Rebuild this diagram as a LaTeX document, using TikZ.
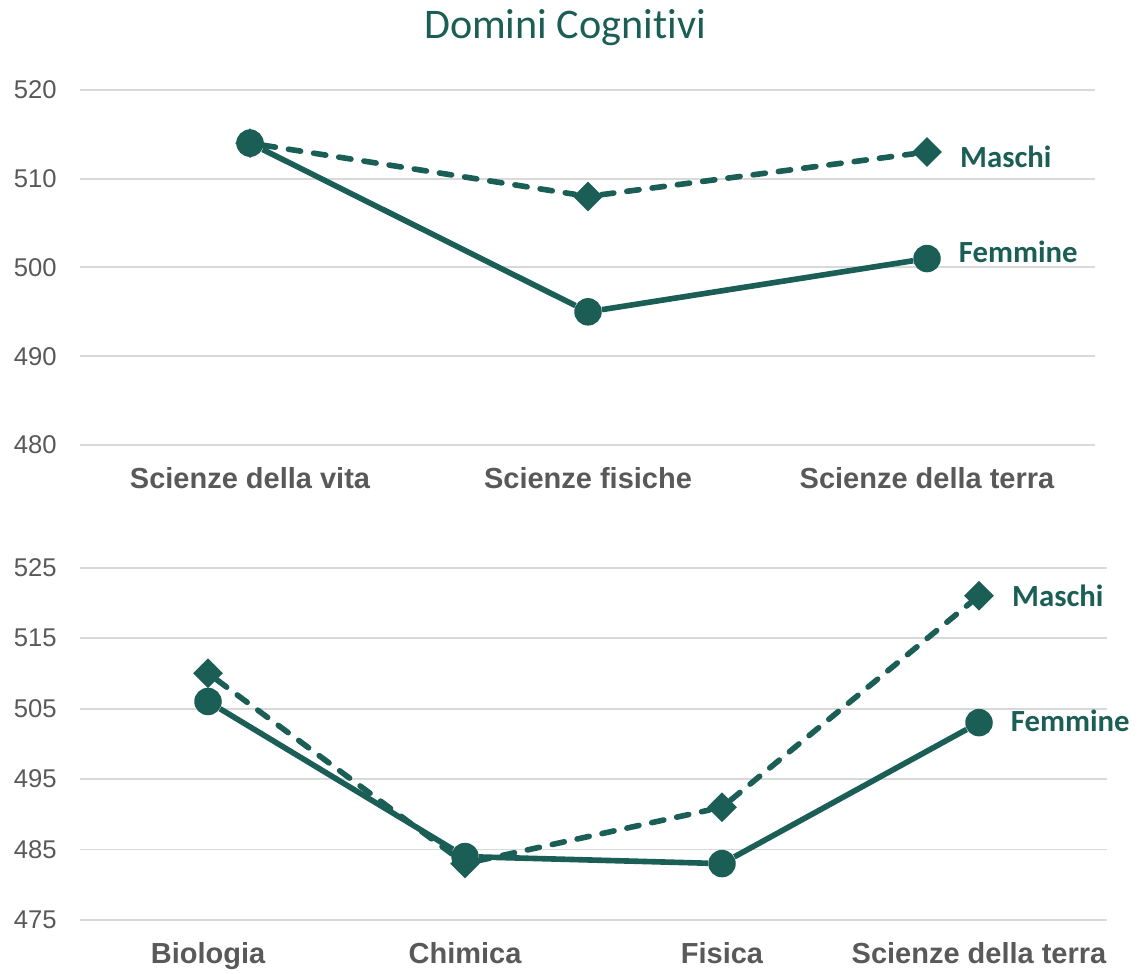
\documentclass[tikz,border=0pt]{standalone}
\usepackage{fontspec}
\setmainfont{Liberation Sans}
\newfontfamily\carlito[Ligatures=NoCommon]{Carlito}
\usetikzlibrary{shapes.geometric,positioning}

\definecolor{verde}{HTML}{1A5E55}
\definecolor{grigio}{HTML}{595959}
\definecolor{griglia}{HTML}{D9D9D9}

\tikzset{
  gridline/.style={griglia, line width=1.1pt},
  asse/.style={grigio, anchor=east, inner sep=0pt, font=\fontsize{14.6}{16}\selectfont},
  categoria/.style={grigio, anchor=base, inner sep=0pt, font=\bfseries\fontsize{16.5}{18}\selectfont},
  femmine/.style={verde, line width=3.2pt},
  maschi/.style={verde, line width=3.2pt, line cap=round, dash pattern=on 7pt off 7.5pt},
  pallino/.style={circle, fill=verde, inner sep=0pt, minimum size=0.55cm},
  rombo/.style={diamond, fill=verde, inner sep=0pt, minimum size=0.6cm},
  serie/.style={verde, inner sep=0pt, font=\carlito\bfseries\fontsize{17.5}{20}\selectfont}
}

\begin{document}
\begin{tikzpicture}[x=0.02cm, y=-0.02cm]
        \useasboundingbox (0,0) rectangle (1145,973);
        % Titolo
        \node[verde, anchor=base, inner sep=0pt, font=\carlito\fontsize{24}{28}\selectfont] (titolo) at (565,39) {Domini Cognitivi};

        % Grafico in alto
        \begin{scope}[shift={(0,445)}, y=0.1776cm]
        \foreach \v in {0,10,...,40} {
          \draw[gridline] (80,\v) -- (1095,\v);
          \pgfmathtruncatemacro{\etichetta}{480+\v}
          \node[asse] at (57,\v) {\etichetta};
        }
        \node[categoria] (vita) at (250,-4.95) {Scienze della vita};
        \node[categoria] (fisiche) at (588,-4.95) {Scienze fisiche};
        \node[categoria] (terra) at (927,-4.95) {Scienze della terra};
        % Punti
        \node[rombo] (mv) at (250,34) {};
        \node[rombo] (mf) at (588,28) {};
        \node[rombo] (mt) at (927,33) {};
        \node[pallino] (fv) at (250,34) {};
        \node[pallino] (ff) at (588,15) {};
        \node[pallino] (ft) at (927,21) {};
        \draw[maschi] (mv) -- (mf) -- (mt);
        \draw[femmine] (fv) -- (ff) -- (ft);
        \node[serie, anchor=west, right=0.35cm of mt, yshift=-3pt] (lm1) {Maschi};
        \node[serie, anchor=west, right=0.35cm of ft, yshift=4pt] (lf1) {Femmine};
        \end{scope}

        % Grafico in basso
        \begin{scope}[shift={(0,920)}, y=0.141cm]
        \foreach \v in {0,10,...,50} {
          \draw[gridline] (80,\v) -- (1107,\v);
          \pgfmathtruncatemacro{\etichetta}{475+\v}
          \node[asse] at (57,\v) {\etichetta};
        }
        \node[categoria] (bio) at (208,-6.24) {Biologia};
        \node[categoria] (chim) at (465,-6.24) {Chimica};
        \node[categoria] (fis) at (722,-6.24) {Fisica};
        \node[categoria] (terra2) at (979,-6.24) {Scienze della terra};
        % Punti
        \node[rombo] (mb) at (208,35) {};
        \node[rombo] (mc) at (465,8) {};
        \node[rombo] (mfi) at (722,16) {};
        \node[rombo] (mte) at (979,46) {};
        \node[pallino] (fb) at (208,31) {};
        \node[pallino] (fc) at (465,9) {};
        \node[pallino] (ffi) at (722,8) {};
        \node[pallino] (fte) at (979,28) {};
        \draw[maschi] (mb) -- (mc) -- (mfi) -- (mte);
        \draw[femmine] (fb) -- (fc) -- (ffi) -- (fte);
        \node[serie, anchor=west, right=0.35cm of mte] (lm2) {Maschi};
        \node[serie, anchor=west, right=0.35cm of fte, yshift=1pt] (lf2) {Femmine};
        \end{scope}
    \end{tikzpicture}
\end{document}
